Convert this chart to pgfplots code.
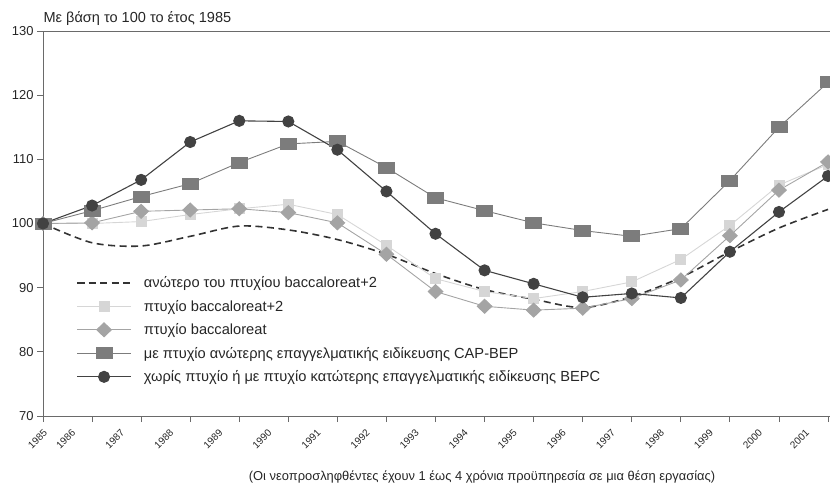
\documentclass[border=0pt]{standalone}
\usepackage{pgfplots}
\pgfplotsset{compat=1.18}
\usepackage{fontspec}
\setmainfont{Liberation Sans}
\definecolor{cdash}{HTML}{333333}
\definecolor{clight}{HTML}{D6D6D6}
\definecolor{cdia}{HTML}{A4A4A4}
\definecolor{csq}{HTML}{7C7C7C}
\definecolor{ccirc}{HTML}{424242}
\definecolor{caxis}{HTML}{6A6A6A}
\begin{document}
\begin{tikzpicture}
\path[use as bounding box] (-43bp,-74bp) rectangle (787bp,416bp);
\begin{axis}[
  at={(0,0)}, anchor=south west,
  scale only axis, width=787bp, height=385bp,
  xmin=1985, xmax=2001.04, ymin=70, ymax=130,
  ytick={70,80,...,130},
  xtick={1985,...,2001},
  xticklabels={},
  extra x ticks={1985,1985.572,1986.572,1987.572,1988.572,1989.572,1990.572,1991.572,1992.572,1993.572,1994.572,1995.572,1996.572,1997.572,1998.572,1999.572,2000.53},
  extra x tick labels={1985,1986,1987,1988,1989,1990,1991,1992,1993,1994,1995,1996,1997,1998,1999,2000,2001},
  extra x tick style={tick style={draw=none}},
  /pgf/number format/1000 sep={},
  /pgf/number format/assume math mode=true,
  axis line style={caxis, line width=0.8pt},
  tick style={caxis, line width=0.8pt},
  tick align=outside, tick pos=left,
  major tick length=6bp,
  yticklabel style={font=\fontsize{13}{15}\selectfont, text=black!85},
  xticklabel style={yshift=-2bp, rotate=45, anchor=north east, font=\fontsize{10}{12}\selectfont, text=black!85},
  clip=false,
  legend cell align=left,
  legend style={draw=none, fill=none, inner sep=0pt, at={(0.042,0.368)}, anchor=north west,
    font=\fontsize{14.7}{16}\selectfont, text=black!85, row sep=7bp,
    /tikz/every odd column/.append style={column sep=10bp}},
  legend image code/.code={\draw[mark repeat=2,mark phase=2,#1] plot coordinates {(0bp,0bp) (27bp,0bp) (54bp,0bp)};},
]
\addplot[cdash, line width=1.6pt, dash pattern=on 7bp off 4.5bp, smooth, mark=none] coordinates {
(1985,100) (1986,97) (1987,96.5) (1988,98) (1989,99.6) (1990,99) (1991,97.5) (1992,95.2) (1993,92.2) (1994,89.7) (1995,88.2) (1996,86.9) (1997,88.6) (1998,91.6) (1999,95.6) (2000,99.3) (2001,102.2)};
\addlegendentry{ανώτερο του πτυχίου baccaloreat+2}
\addplot[clight, line width=0.9pt, mark=square*, mark size=5bp, mark options={fill=clight, draw=clight}] coordinates {
(1985,100) (1986,100) (1987,100.3) (1988,101.4) (1989,102.3) (1990,103) (1991,101.4) (1992,96.6) (1993,91.4) (1994,89.4) (1995,88.3) (1996,89.4) (1997,90.9) (1998,94.4) (1999,99.7) (2000,106) (2001,109.2)};
\addlegendentry{πτυχίο baccaloreat+2}
\addplot[cdia, line width=0.9pt, mark=diamond*, mark size=7bp, mark options={fill=cdia, draw=cdia, xscale=1.4}] coordinates {
(1985,100) (1986,100.1) (1987,101.9) (1988,102.1) (1989,102.3) (1990,101.7) (1991,100.1) (1992,95.2) (1993,89.4) (1994,87.1) (1995,86.5) (1996,86.8) (1997,88.3) (1998,91.2) (1999,98.1) (2000,105.2) (2001,109.6)};
\addlegendentry{πτυχίο baccaloreat}
\addplot[csq, line width=0.9pt, mark=square*, mark size=5.5bp, mark options={fill=csq, draw=csq, xscale=1.45}] coordinates {
(1985,100) (1986,102) (1987,104.2) (1988,106.2) (1989,109.5) (1990,112.4) (1991,112.8) (1992,108.7) (1993,104) (1994,102) (1995,100.1) (1996,98.9) (1997,98) (1998,99.2) (1999,106.7) (2000,115) (2001,122)};
\addlegendentry{με πτυχίο ανώτερης επαγγελματικής ειδίκευσης CAP-BEP}
\addplot[ccirc, line width=1.1pt, mark=*, mark size=5.5bp, mark options={fill=ccirc, draw=ccirc}] coordinates {
(1985,100) (1986,102.8) (1987,106.8) (1988,112.7) (1989,116) (1990,115.9) (1991,111.5) (1992,105) (1993,98.4) (1994,92.7) (1995,90.6) (1996,88.5) (1997,89.1) (1998,88.4) (1999,95.6) (2000,101.8) (2001,107.4)};
\addlegendentry{χωρίς πτυχίο ή με πτυχίο κατώτερης επαγγελματικής ειδίκευσης BEPC}
\end{axis}
\node[anchor=base west, font=\fontsize{14.6}{16}\selectfont, text=black!85] at (-3bp,393.5bp) {Με βάση το 100 το έτος 1985};
\node[anchor=base, font=\fontsize{12.95}{15}\selectfont, text=black!85] at (439bp,-64bp) {(Οι νεοπροσληφθέντες έχουν 1 έως 4 χρόνια προϋπηρεσία σε μια θέση εργασίας)};
\end{tikzpicture}
\end{document}
